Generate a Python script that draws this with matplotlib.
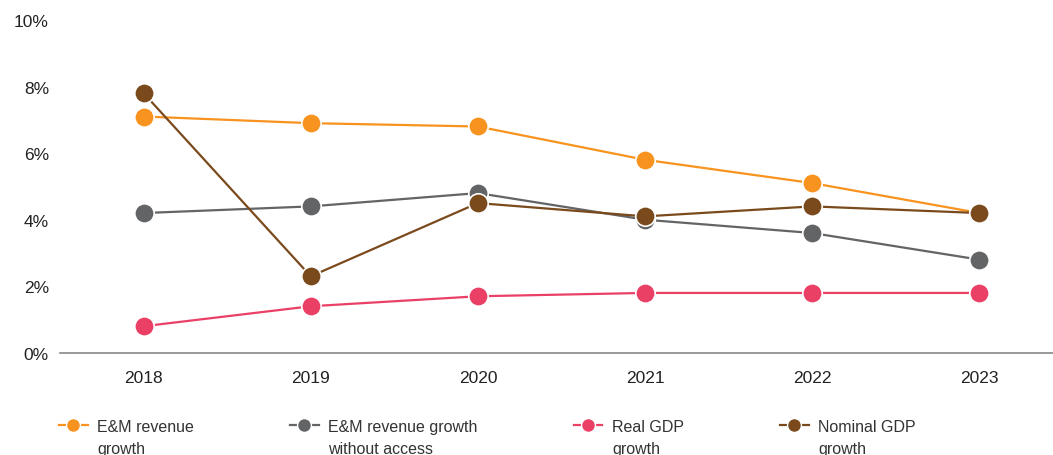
import numpy as np
import matplotlib.pyplot as plt
from matplotlib.lines import Line2D
from matplotlib.legend_handler import HandlerLine2D
from matplotlib.ticker import FuncFormatter

plt.rcParams['font.family'] = ['Liberation Sans', 'DejaVu Sans']

years = [2018, 2019, 2020, 2021, 2022, 2023]
em_growth = [7.1, 6.9, 6.8, 5.8, 5.1, 4.2]
em_no_access = [4.2, 4.4, 4.8, 4.0, 3.6, 2.8]
real_gdp = [0.8, 1.4, 1.7, 1.8, 1.8, 1.8]
nominal_gdp = [7.8, 2.3, 4.5, 4.1, 4.4, 4.2]

series_names = ['E&M revenue\ngrowth', 'E&M revenue growth\nwithout access',
                'Real GDP\ngrowth', 'Nominal GDP\ngrowth']
series_colors = ['#F7931E', '#636466', '#EB4066', '#7A4A1C']
series_vals = [em_growth, em_no_access, real_gdp, nominal_gdp]


# legend handle sits next to the first line of the label, not the middle
class FirstLineHandler(HandlerLine2D):
    def create_artists(self, legend, orig_handle, xdescent, ydescent,
                       width, height, fontsize, trans):
        arts = super().create_artists(legend, orig_handle, xdescent, ydescent,
                                      width, height, fontsize, trans)
        for a in arts:
            a.set_ydata(np.asarray(a.get_ydata()) + 0.82 * fontsize)
        return arts


fig = plt.figure(figsize=(10.53, 4.56), dpi=100)
ax = fig.add_axes([0.057, 0.224, 0.943, 0.73])

x = np.arange(len(years))
for vals, col in zip(series_vals, series_colors):
    ax.plot(x, vals, color=col, lw=1.6, marker='o', ms=14,
            mec='white', mew=1.2, zorder=3)

ax.set_xlim(-0.5, len(years) - 1 + 0.44)
ax.set_ylim(0, 10)
ax.set_xticks(x)
ax.set_xticklabels([str(y) for y in years])
ax.set_yticks(np.arange(0, 11, 2))
ax.yaxis.set_major_formatter(FuncFormatter(lambda v, p: f'{v:.0f}%'))
ax.tick_params(length=0, labelsize=12.5, colors='#222222')
ax.tick_params(axis='x', pad=12)
ax.tick_params(axis='y', pad=8)

for s in ['top', 'right', 'left']:
    ax.spines[s].set_visible(False)
ax.spines['bottom'].set_color('#888888')
ax.spines['bottom'].set_linewidth(1.2)

handles = [Line2D([0], [0], color=c, lw=1.6, marker='o', ms=10,
                  mec='white', mew=1.0) for c in series_colors]
leg = fig.legend(handles, series_names, ncol=4, loc='upper left',
                 bbox_to_anchor=(0.050, 0.093), frameon=False, fontsize=11.5,
                 handlelength=1.8, handletextpad=0.6, columnspacing=6.0,
                 labelcolor='#333333', borderaxespad=0,
                 handler_map={Line2D: FirstLineHandler()})
for t in leg.get_texts():
    t.set_linespacing(1.6)

fig.savefig('out.png', dpi=100)
